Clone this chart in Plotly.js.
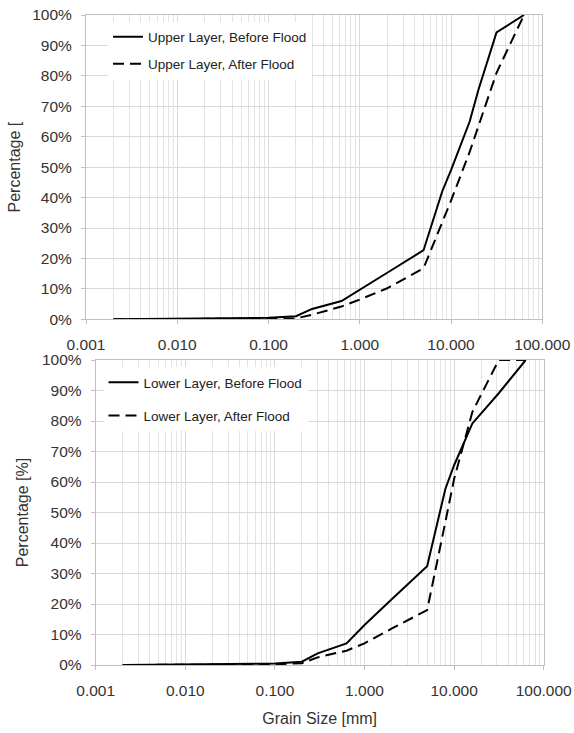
<!DOCTYPE html>
<html>
<head>
<meta charset="utf-8">
<script src="https://cdn.plot.ly/plotly-3.0.1.min.js"></script>
<style>
  html, body { margin: 0; padding: 0; background: #fff; }
  #plot { width: 574px; height: 733px; }
</style>
</head>
<body>
<div id="plot"></div>
<script>
// Grain sizes [mm]
const grainSize = [0.002, 0.063, 0.1, 0.2, 0.3, 0.63, 1, 2, 5, 8, 10, 16, 20, 31.5, 63];

// Cumulative passing [%]
const upperBefore = [0, 0.3, 0.5, 1.0, 3.4, 6.0, 9.8, 15.3, 22.7, 42, 49, 65, 75.5, 94.3, 100];
const upperAfter  = [0, 0.1, 0.15, 0.3, 1.5, 4.2, 6.5, 10.2, 16.8, 32, 39, 55, 63.5, 81, 100];
const lowerBefore = [0, 0.3, 0.5, 1.1, 3.8, 7.1, 13.1, 21.5, 32.4, 57.8, 65.5, 79.2, 82.5, 89.1, 100];
const lowerAfter  = [0, 0.1, 0.2, 0.6, 2.5, 4.7, 7.1, 11.9, 18.0, 47, 61, 83, 88.5, 100, 100];

const seriesNames = ["Upper Layer, Before Flood", "Upper Layer, After Flood",
                     "Lower Layer, Before Flood", "Lower Layer, After Flood"];

const xTickVals = [0.001, 0.01, 0.1, 1, 10, 100];
const xTickText = ["0.001", "0.010", "0.100", "1.000", "10.000", "100.000"];
const yTitles = ["Percentage [", "Percentage [%]"];
const xTitle = "Grain Size [mm]";

const W = 574, H = 733;
const FONT = "Liberation Sans, Arial, sans-serif";
const DASH = "11px,6px";

function line(dash) { return { color: "#000", width: 2, dash: dash }; }

const traces = [
  { x: grainSize, y: upperBefore, name: seriesNames[0], mode: "lines", line: line("solid"),
    xaxis: "x", yaxis: "y", legend: "legend", legendgroup: "a" },
  { x: grainSize, y: upperAfter, name: seriesNames[1], mode: "lines", line: line(DASH),
    xaxis: "x", yaxis: "y", legend: "legend", legendgroup: "b" },
  { x: grainSize, y: lowerBefore, name: seriesNames[2], mode: "lines", line: line("solid"),
    xaxis: "x2", yaxis: "y2", legend: "legend2", legendgroup: "c" },
  { x: grainSize, y: lowerAfter, name: seriesNames[3], mode: "lines", line: line(DASH),
    xaxis: "x2", yaxis: "y2", legend: "legend2", legendgroup: "d" }
];

function xAxis(l, r, anchor, withTitle) {
  const ax = {
    type: "log", range: [-3, 2], domain: [l / W, r / W], anchor: anchor,
    tickvals: xTickVals, ticktext: xTickText,
    ticks: "outside", ticklen: 4, tickcolor: "#c0c0c0",
    ticklabelstandoff: 7,
    showgrid: true, gridcolor: "#d9d9d9", gridwidth: 1,
    minor: { dtick: "D1", showgrid: true, gridcolor: "#e3e3e3", gridwidth: 1, ticks: "" },
    showline: true, linecolor: "#bfbfbf", linewidth: 1, mirror: true,
    zeroline: false, automargin: false,
    tickfont: { family: FONT, size: 15.5, color: "#333" }
  };
  if (withTitle) {
    ax.automargin = "bottom";
    ax.title = { text: xTitle, font: { family: FONT, size: 16, color: "#333" }, standoff: 15 };
  }
  return ax;
}

function yAxis(top, bottom, anchor, title, standoff) {
  return {
    range: [0, 100], dtick: 10, ticksuffix: "%",
    domain: [1 - bottom / H, 1 - top / H], anchor: anchor,
    ticks: "outside", ticklen: 4, tickcolor: "#c0c0c0",
    ticklabelstandoff: 6,
    showgrid: true, gridcolor: "#d9d9d9", gridwidth: 1,
    showline: true, linecolor: "#bfbfbf", linewidth: 1, mirror: true,
    zeroline: false, automargin: "left",
    tickfont: { family: FONT, size: 15.5, color: "#333" },
    title: { text: title, font: { family: FONT, size: 16, color: "#333" }, standoff: standoff }
  };
}

const layout = {
  width: W, height: H,
  margin: { l: 0, r: 0, t: 0, b: 0, autoexpand: false },
  paper_bgcolor: "#fff", plot_bgcolor: "#fff",
  showlegend: true,
  font: { family: FONT, color: "#333" },
  xaxis: xAxis(86, 542.3, "y", false),
  yaxis: yAxis(15, 319.3, "x", yTitles[0], 7),
  xaxis2: xAxis(95.7, 543.7, "y2", true),
  yaxis2: yAxis(360, 665, "x2", yTitles[1], 9),
  legend: {
    x: 108 / W, y: 1 - 21.5 / H, xanchor: "left", yanchor: "top",
    bgcolor: "#fff", borderwidth: 0, traceorder: "grouped", tracegroupgap: 6.5,
    font: { family: FONT, size: 13.5, color: "#222" }
  },
  legend2: {
    x: 103.5 / W, y: 1 - 367 / H, xanchor: "left", yanchor: "top",
    bgcolor: "#fff", borderwidth: 0, traceorder: "grouped", tracegroupgap: 12.7,
    font: { family: FONT, size: 13.5, color: "#222" }
  }
};

Plotly.newPlot("plot", traces, layout, { staticPlot: true, displayModeBar: false });
</script>
</body>
</html>
